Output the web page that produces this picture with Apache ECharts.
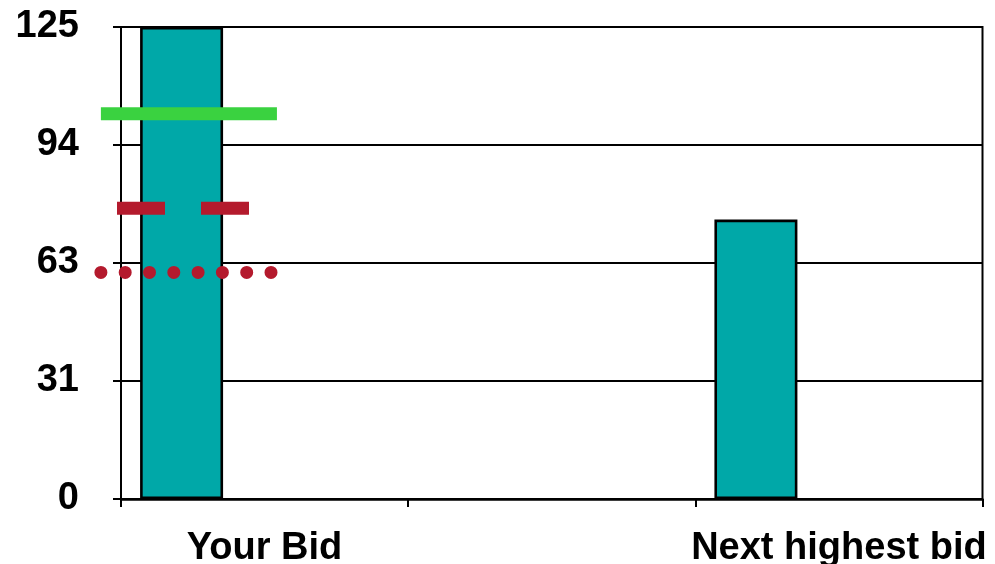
<!DOCTYPE html>
<html>
<head>
<meta charset="utf-8">
<script src="https://cdn.jsdelivr.net/npm/echarts@6/dist/echarts.min.js"></script>
<style>html,body{margin:0;padding:0;background:#fff;}#c{width:995px;height:564px;}</style>
</head>
<body>
<div id="c"></div>
<script>
// ---- data ----
const categories = ['Your Bid', '', 'Next highest bid'];
const bidValues = [125, null, 74];
const yTickLabels = ['0', '31', '63', '94', '125'];
const yMax = 125;
// reference marks drawn over the chart (value, and span in category units)
const greenLevel = 102;
const greenSpan = [-0.07, 0.543];
const dashLevel = 77;
const dashSpan = [-0.014, 0.446];
const dotLevel = 60;
const dotSpan = [-0.07, 0.528];

// ---- layout ----
const W = 995, PL = 121, PR = 12.5, PT = 27, PB = 65;
const unitPx = (W - PL - PR) / categories.length;
const font = 'Liberation Sans, Arial, sans-serif';
const chart = echarts.init(document.getElementById('c'), null, {renderer: 'canvas'});
const step = yMax / (yTickLabels.length - 1);
const seg = (span, lvl) => [[span[0], lvl], [span[1], lvl]];

const overlay = (data, style) => ({
  type: 'line', xAxisIndex: 1, yAxisIndex: 1, data, symbol: 'none', silent: true,
  lineStyle: style, z: 5
});

chart.setOption({
  animation: false,
  backgroundColor: '#fff',
  grid: [
    {left: PL, right: PR, top: PT, bottom: PB, outerBoundsMode: 'none', containLabel: false,
     show: true, borderColor: '#000', borderWidth: 2, backgroundColor: 'transparent'},
    {left: 0, right: PR, top: PT, bottom: PB, outerBoundsMode: 'none', containLabel: false, show: false}
  ],
  xAxis: [{
    type: 'category', data: categories, boundaryGap: true, gridIndex: 0,
    axisLine: {lineStyle: {color: '#000', width: 2.5}},
    axisTick: {show: true, length: 8, lineStyle: {color: '#000', width: 2}},
    axisLabel: {color: '#000', fontSize: 38, fontWeight: 'bold', fontFamily: font, margin: 31, interval: 0}
  }, {
    type: 'value', gridIndex: 1, min: -PL / unitPx, max: categories.length, show: false
  }],
  yAxis: [{
    type: 'value', gridIndex: 0, min: 0, max: yMax, interval: step,
    axisLine: {show: true, lineStyle: {color: '#000', width: 2}},
    axisTick: {show: true, length: 8, lineStyle: {color: '#000', width: 2}},
    splitLine: {show: true, lineStyle: {color: '#000', width: 2}},
    axisLabel: {color: '#000', fontSize: 38, fontWeight: 'bold', fontFamily: font, margin: 42,
      formatter: v => yTickLabels[Math.round(v / step)]}
  }, {
    type: 'value', gridIndex: 1, min: 0, max: yMax, show: false
  }],
  series: [
    {type: 'bar', data: bidValues, barGap: '0%', barWidth: 83,
     itemStyle: {color: '#00A8A8', borderColor: '#000', borderWidth: 2.6}},
    {type: 'bar', data: categories.map(() => null), barWidth: 83},
    {type: 'bar', data: categories.map(() => null), barWidth: 83},
    overlay(seg(greenSpan, greenLevel), {color: '#3AD240', width: 13, cap: 'butt'}),
    overlay(seg(dashSpan, dashLevel), {color: '#B41A2D', width: 13, cap: 'butt', type: [48, 36]}),
    overlay(seg(dotSpan, dotLevel), {color: '#B41A2D', width: 13, cap: 'round', type: [0, 24.3]})
  ]
});
</script>
</body>
</html>
